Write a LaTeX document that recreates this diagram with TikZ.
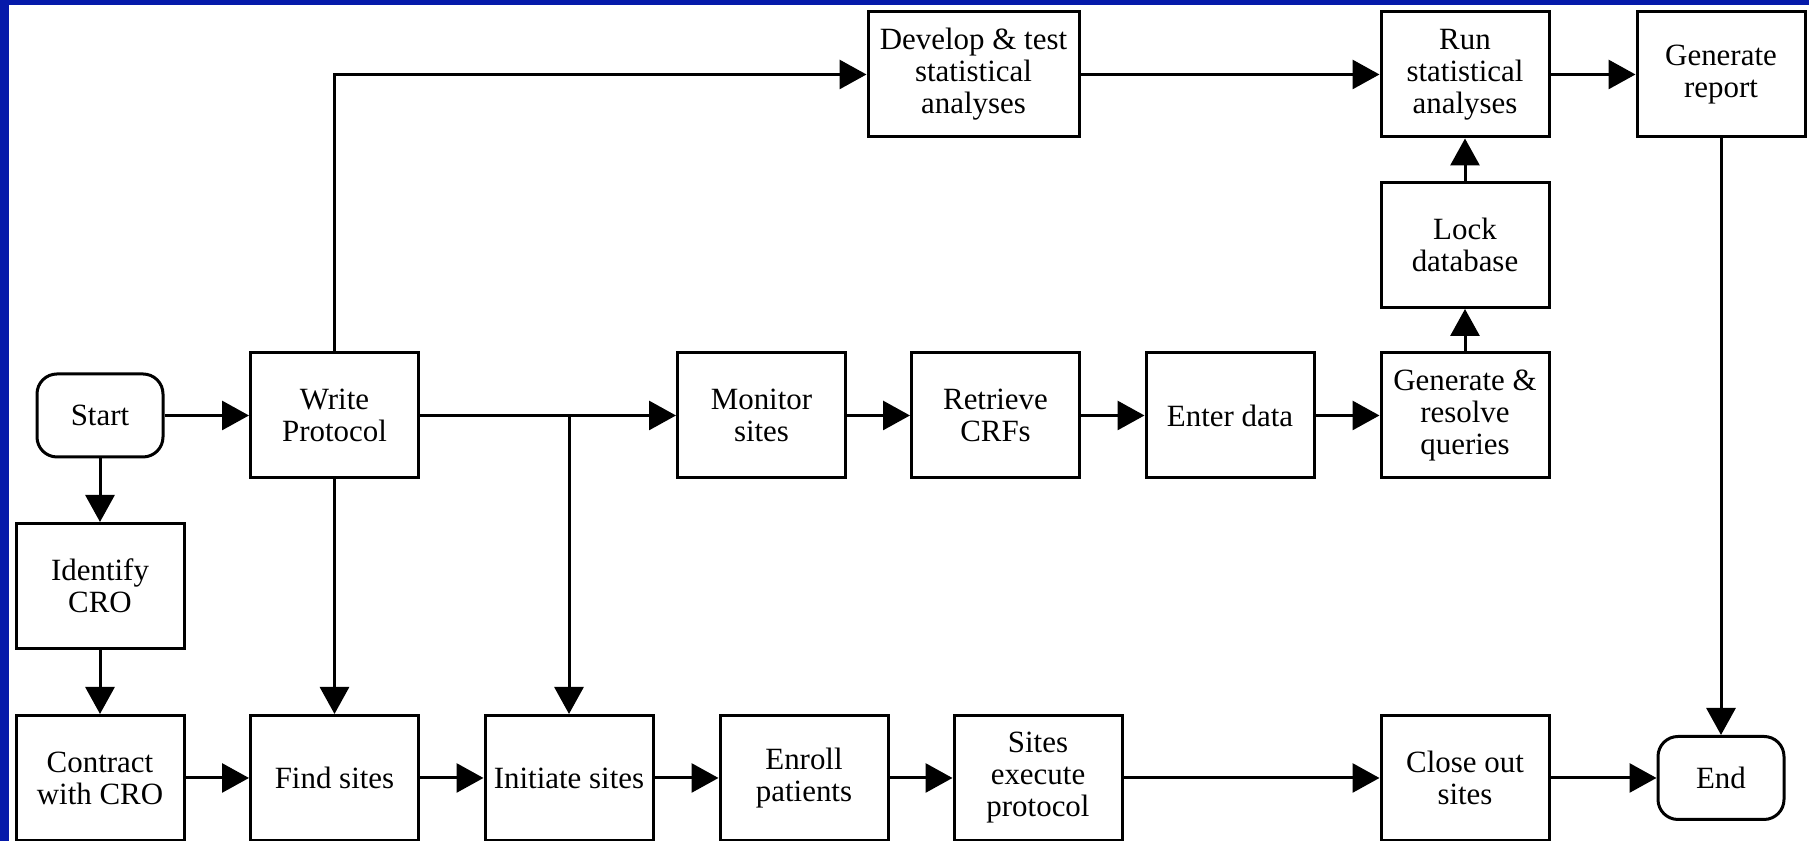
\documentclass[tikz,border=0pt]{standalone}
\usepackage{fontspec}
\setmainfont{Liberation Serif}
\usetikzlibrary{arrows.meta}
\definecolor{frameblue}{RGB}{5,26,170}

\begin{document}
\begin{tikzpicture}[
  box/.style={draw,line width=0.03cm,minimum width=1.68cm,minimum height=1.25cm,inner sep=0pt,align=center,font=\fontsize{8.8}{9.1}\selectfont},
  terminal/.style={box,rounded corners=0.2cm,minimum width=1.26cm,minimum height=0.83cm},
  flow/.style={line width=0.03cm,-{Triangle[length=0.27cm,width=0.29cm]}}]
\useasboundingbox (0,0) rectangle (18.09,8.41);
\fill[frameblue] (0,8.36) rectangle (18.09,8.41);
\fill[frameblue] (0,0) rectangle (0.09,8.41);
\node[terminal] (start) at (1.00,4.255) {Start};
\node[box] (identify) at (1.00,2.55) {Identify\\CRO};
\node[box] (contract) at (1.00,0.63) {Contract\\with CRO};
\node[box] (write) at (3.345,4.255) {Write\\Protocol};
\node[box] (find) at (3.345,0.63) {Find sites};
\node[box] (initiate) at (5.69,0.63) {Initiate sites};
\node[box] (enroll) at (8.04,0.63) {Enroll\\patients};
\node[box] (execute) at (10.38,0.63) {Sites\\execute\\protocol};
\node[box] (closeout) at (14.65,0.63) {Close out\\sites};
\node[terminal] (stop) at (17.21,0.63) {End};
\node[box] (monitor) at (7.615,4.255) {Monitor\\sites};
\node[box] (retrieve) at (9.955,4.255) {Retrieve\\CRFs};
\node[box] (enter) at (12.30,4.255) {Enter data};
\node[box] (queries) at (14.65,4.255) {Generate \&\\resolve\\queries};
\node[box] (lock) at (14.65,5.96) {Lock\\database};
\node[box] (run) at (14.65,7.665) {Run\\statistical\\analyses};
\node[box,minimum width=2.11cm] (develop) at (9.735,7.665) {Develop \& test\\statistical\\analyses};
\node[box] (report) at (17.21,7.665) {Generate\\report};
\coordinate (split) at (initiate.north |- write.east);
\draw[flow] (start) -- (write);
\draw[flow] (start) -- (identify);
\draw[flow] (identify) -- (contract);
\draw[flow] (contract) -- (find);
\draw[flow] (write) -- (find);
\draw[flow] (write.north) |- (develop.west);
\draw[flow] (write.east) -- (monitor.west);
\draw[flow] (split) -- (initiate.north);
\draw[flow] (find) -- (initiate);
\draw[flow] (initiate) -- (enroll);
\draw[flow] (enroll) -- (execute);
\draw[flow] (execute) -- (closeout);
\draw[flow] (closeout) -- (stop);
\draw[flow] (monitor) -- (retrieve);
\draw[flow] (retrieve) -- (enter);
\draw[flow] (enter) -- (queries);
\draw[flow] (queries) -- (lock);
\draw[flow] (lock) -- (run);
\draw[flow] (develop) -- (run);
\draw[flow] (run) -- (report);
\draw[flow] (report) -- (stop);
\end{tikzpicture}
\end{document}
